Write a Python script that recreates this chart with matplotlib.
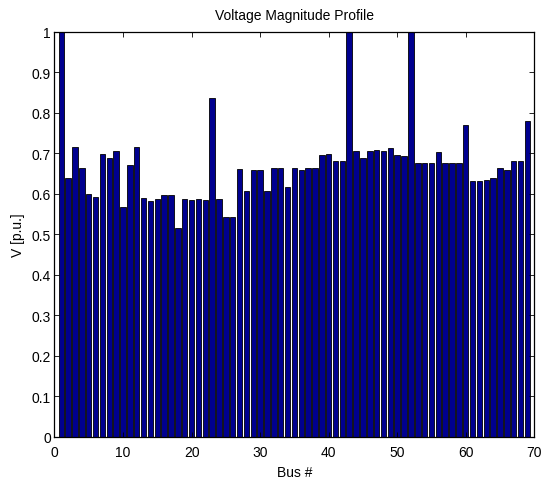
import numpy as np
import matplotlib
matplotlib.use("Agg")
import matplotlib.pyplot as plt

# --- dados: magnitude de tensão por barra (p.u.) ---
bus = np.arange(1, 70)
voltage = [
    1.000, 0.640, 0.715, 0.664, 0.600, 0.593, 0.699, 0.688, 0.706, 0.568,
    0.670, 0.715, 0.590, 0.583, 0.588, 0.597, 0.597, 0.516, 0.588, 0.585,
    0.587, 0.585, 0.836, 0.588, 0.544, 0.544, 0.661, 0.608, 0.659, 0.659,
    0.608, 0.664, 0.664, 0.617, 0.664, 0.659, 0.664, 0.664, 0.697, 0.699,
    0.682, 0.682, 1.000, 0.706, 0.688, 0.706, 0.708, 0.706, 0.712, 0.697,
    0.694, 1.000, 0.676, 0.676, 0.676, 0.703, 0.676, 0.676, 0.676, 0.770,
    0.632, 0.632, 0.635, 0.638, 0.664, 0.659, 0.682, 0.682, 0.779,
]
x_ticks = list(range(0, 71, 10))
y_ticks = [round(0.1 * i, 1) for i in range(11)]

plt.rcParams['font.family'] = ['Liberation Sans', 'DejaVu Sans']
plt.rcParams['font.size'] = 10

fig = plt.figure(figsize=(5.42, 4.81), dpi=100)
ax = fig.add_axes([0.1005, 0.0894, 0.8853, 0.8426])

ax.bar(bus, voltage, width=0.8, color='#00008F', edgecolor='black', linewidth=0.6)

ax.set_xlim(0, 70)
ax.set_ylim(0, 1)
ax.set_xticks(x_ticks)
ax.set_yticks(y_ticks)
ax.set_yticklabels(['0'] + [f'{v:g}' for v in y_ticks[1:-1]] + ['1'])
ax.tick_params(direction='in', top=True, right=True, length=3.6, width=0.6, pad=2.5)
ax.tick_params(axis='x', pad=6)
for s in ax.spines.values():
    s.set_linewidth(0.9)

ax.set_title('Voltage Magnitude Profile', fontsize=10, pad=9)
ax.set_xlabel('Bus #', labelpad=4)
ax.set_ylabel('V [p.u.]', labelpad=5)

fig.savefig('out.png', dpi=100)
